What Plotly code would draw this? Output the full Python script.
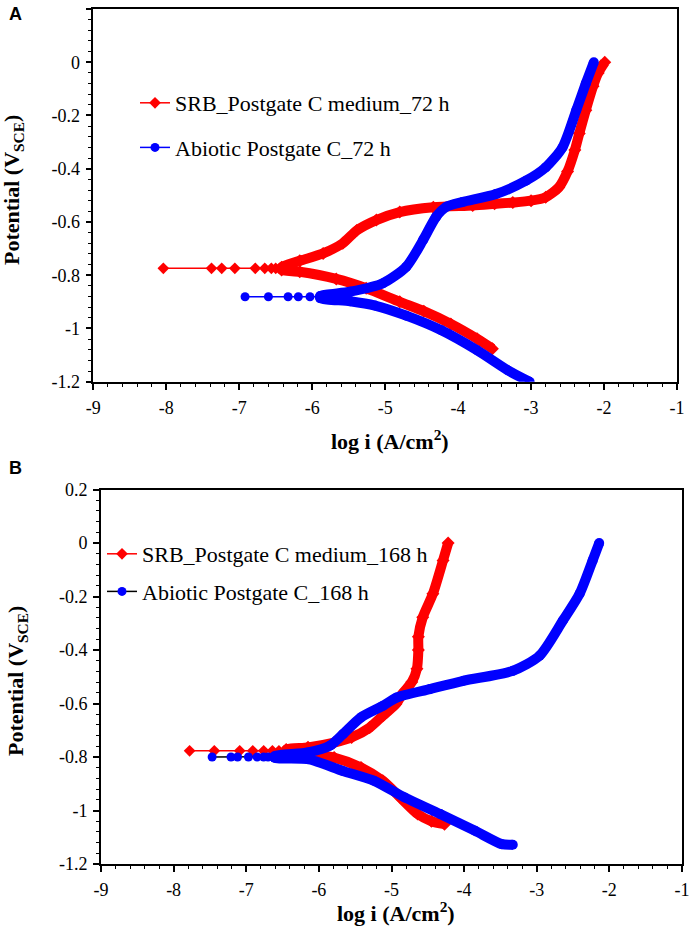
import plotly.graph_objects as go

# ---------------- data ----------------
x_tick_vals = [-9, -8, -7, -6, -5, -4, -3, -2, -1]
x_tick_text = ["-9", "-8", "-7", "-6", "-5", "-4", "-3", "-2", "-1"]
y_tick_vals = [0.2, 0, -0.2, -0.4, -0.6, -0.8, -1.0, -1.2]
y_tick_text = ["0.2", "0", "-0.2", "-0.4", "-0.6", "-0.8", "-1", "-1.2"]

series_names_a = ["SRB_Postgate C medium_72 h", "Abiotic Postgate C_72 h"]
series_names_b = ["SRB_Postgate C medium_168 h", "Abiotic Postgate C_168 h"]

# Panel A, SRB 72 h
a_srb_ecorr_x = [-8.04, -7.38, -7.24, -7.06, -6.78, -6.65, -6.56, -6.50, -6.42]
a_srb_ecorr_E = [-0.774, -0.774, -0.774, -0.774, -0.774, -0.774, -0.774, -0.774, -0.774]
a_srb_anod_x = [-6.42, -6.17, -5.85, -5.58, -5.39, -5.12, -4.80, -4.34, -3.80, -3.50, -3.25, -3.00,
                -2.80, -2.62, -2.50, -2.40, -2.34, -2.25, -2.15, -2.08, -1.99]
a_srb_anod_E = [-0.770, -0.746, -0.718, -0.680, -0.632, -0.593, -0.563, -0.545, -0.538, -0.532, -0.527, -0.520,
                -0.507, -0.470, -0.410, -0.330, -0.268, -0.180, -0.090, -0.040, 0.000]
a_srb_cath_x = [-6.42, -6.17, -5.67, -5.26, -4.80, -4.47, -4.10, -3.74, -3.53]
a_srb_cath_E = [-0.780, -0.787, -0.814, -0.849, -0.900, -0.935, -0.983, -1.039, -1.076]

# Panel A, Abiotic 72 h
a_abi_ecorr_x = [-6.92, -6.60, -6.33, -6.19, -6.03, -5.89]
a_abi_ecorr_E = [-0.881, -0.881, -0.881, -0.881, -0.881, -0.881]
a_abi_anod_x = [-5.89, -5.48, -5.03, -4.71, -4.48, -4.30, -4.16, -3.94, -3.48, -3.07, -2.80, -2.57,
                -2.38, -2.25, -2.14]
a_abi_anod_E = [-0.878, -0.862, -0.830, -0.768, -0.668, -0.580, -0.543, -0.525, -0.495, -0.445, -0.395, -0.320,
                -0.180, -0.080, 0.000]
a_abi_cath_x = [-5.89, -5.48, -5.14, -4.71, -4.23, -3.74, -3.32, -3.02]
a_abi_cath_E = [-0.886, -0.898, -0.914, -0.952, -1.007, -1.082, -1.157, -1.200]

# Panel B, SRB 168 h
b_srb_ecorr_x = [-7.78, -7.44, -7.09, -6.91, -6.76, -6.64, -6.55, -6.45]
b_srb_ecorr_E = [-0.777, -0.777, -0.777, -0.777, -0.777, -0.777, -0.777, -0.776]
b_srb_anod_x = [-6.45, -6.15, -5.79, -5.55, -5.30, -5.12, -4.94, -4.84, -4.72, -4.65, -4.63, -4.63,
                -4.57, -4.43, -4.29, -4.22]
b_srb_anod_E = [-0.772, -0.764, -0.746, -0.727, -0.690, -0.646, -0.602, -0.560, -0.520, -0.470, -0.400, -0.350,
                -0.278, -0.190, -0.065, 0.000]
b_srb_cath_x = [-6.45, -6.15, -5.79, -5.42, -5.12, -4.88, -4.64, -4.45, -4.27]
b_srb_cath_E = [-0.785, -0.789, -0.802, -0.839, -0.889, -0.951, -1.013, -1.040, -1.051]

# Panel B, Abiotic 168 h
b_abi_ecorr_x = [-7.47, -7.21, -7.12, -6.97, -6.85, -6.76, -6.70, -6.61]
b_abi_ecorr_E = [-0.800, -0.800, -0.800, -0.800, -0.800, -0.800, -0.800, -0.799]
b_abi_anod_x = [-6.61, -6.15, -5.85, -5.67, -5.42, -5.12, -4.93, -4.47, -4.01, -3.33, -2.96, -2.64,
                -2.41, -2.23, -2.14]
b_abi_anod_E = [-0.797, -0.783, -0.758, -0.715, -0.652, -0.609, -0.578, -0.546, -0.515, -0.478, -0.421, -0.290,
                -0.190, -0.065, 0.000]
b_abi_cath_x = [-6.61, -6.15, -5.67, -5.24, -4.82, -4.33, -3.85, -3.48, -3.33]
b_abi_cath_E = [-0.803, -0.808, -0.852, -0.889, -0.951, -1.013, -1.076, -1.126, -1.128]

RED = "#ff0000"
BLUE = "#0000ff"
BLACK = "#000000"
SERIF = "Liberation Serif"

fig = go.Figure()


def add_series(name, ex, eE, ax, aE, cx, cE, color, thin_color, symbol, xa, ya, legend, group):
    # thick dense band: cathodic branch (reversed) joined to anodic branch
    bx = list(reversed(cx)) + ax
    bE = list(reversed(cE)) + aE
    fig.add_trace(go.Scatter(
        x=bx, y=bE, mode="lines+markers", xaxis=xa, yaxis=ya,
        line=dict(color=color, width=10, shape="spline", smoothing=0.7),
        marker=dict(color=color, size=10, symbol=symbol),
        showlegend=False, hoverinfo="skip"))
    # sparse points near corrosion potential (legend trace)
    fig.add_trace(go.Scatter(
        x=ex, y=eE, mode="lines+markers", name=name, xaxis=xa, yaxis=ya,
        line=dict(color=thin_color, width=1.5),
        marker=dict(color=color, size=9, symbol=symbol),
        legend=legend, legendgroup=group))


add_series(series_names_a[0], a_srb_ecorr_x, a_srb_ecorr_E, a_srb_anod_x, a_srb_anod_E,
           a_srb_cath_x, a_srb_cath_E, RED, RED, "diamond", "x", "y", "legend", "a1")
add_series(series_names_a[1], a_abi_ecorr_x, a_abi_ecorr_E, a_abi_anod_x, a_abi_anod_E,
           a_abi_cath_x, a_abi_cath_E, BLUE, BLUE, "circle", "x", "y", "legend", "a2")
add_series(series_names_b[0], b_srb_ecorr_x, b_srb_ecorr_E, b_srb_anod_x, b_srb_anod_E,
           b_srb_cath_x, b_srb_cath_E, RED, RED, "diamond", "x2", "y2", "legend2", "b1")
add_series(series_names_b[1], b_abi_ecorr_x, b_abi_ecorr_E, b_abi_anod_x, b_abi_anod_E,
           b_abi_cath_x, b_abi_cath_E, BLUE, BLACK, "circle", "x2", "y2", "legend2", "b2")

W, H = 692, 930


def xaxis_cfg(domain, anchor):
    return dict(
        domain=domain, anchor=anchor, range=[-9.0000001, -0.9999999], tickmode="array",
        tickvals=x_tick_vals, ticktext=x_tick_text, showgrid=False, zeroline=False,
        showline=True, linecolor="black", linewidth=1.6, mirror=True,
        ticks="outside", ticklen=6, tickwidth=1.6, tickcolor="black",
        minor=dict(tickmode="linear", tick0=-9, dtick=0.2, ticks="outside",
                   ticklen=3.5, tickwidth=1.3, tickcolor="black", showgrid=False),
        tickfont=dict(family=SERIF, size=18, color="black"),
        ticklabelstandoff=3, automargin=False)


def yaxis_cfg(domain, anchor):
    return dict(
        domain=domain, anchor=anchor, range=[-1.2000001, 0.2000001], tickmode="array",
        tickvals=y_tick_vals, ticktext=y_tick_text, showgrid=False, zeroline=False,
        showline=True, linecolor="black", linewidth=1.6, mirror=True,
        ticks="outside", ticklen=6, tickwidth=1.6, tickcolor="black",
        minor=dict(tickmode="linear", tick0=-1.2, dtick=0.04, ticks="outside",
                   ticklen=3.5, tickwidth=1.3, tickcolor="black", showgrid=False),
        tickfont=dict(family=SERIF, size=18, color="black"),
        ticklabelstandoff=2, automargin=False)


ax_dom = [93.3 / W, 677 / W]
ay_dom = [1 - 381.7 / H, 1 - 9 / H]
bx_dom = [101 / W, 682 / W]
by_dom = [1 - 864 / H, 1 - 489.5 / H]

legend_font = dict(family=SERIF, size=22, color="black")

fig.update_layout(
    width=W, height=H, margin=dict(l=0, r=0, t=0, b=0),
    font=dict(family=SERIF, size=18, color="black"),
    paper_bgcolor="white", plot_bgcolor="white",
    xaxis=xaxis_cfg(ax_dom, "y"), yaxis=yaxis_cfg(ay_dom, "x"),
    xaxis2=xaxis_cfg(bx_dom, "y2"), yaxis2=yaxis_cfg(by_dom, "x2"),
    legend=dict(x=135 / W, y=1 - 82 / H, xanchor="left", yanchor="top",
                bgcolor="rgba(0,0,0,0)", font=legend_font, itemwidth=30,
                traceorder="grouped", tracegroupgap=13),
    legend2=dict(x=102 / W, y=1 - 533 / H, xanchor="left", yanchor="top",
                 bgcolor="rgba(0,0,0,0)", font=legend_font, itemwidth=30,
                 traceorder="grouped", tracegroupgap=6),
    showlegend=True,
)

title_font = dict(family=SERIF, size=22, color="black")
panel_font = dict(family="Liberation Sans", size=18, color="black")

annotations = [
    dict(text="<b>A</b>", x=15 / W, y=1 - 14 / H, font=panel_font),
    dict(text="<b>B</b>", x=15 / W, y=1 - 468 / H, font=panel_font),
    dict(text="<b>log i (A/cm<sup>2</sup>)</b>", x=390 / W, y=1 - 440 / H, font=title_font),
    dict(text="<b>log i (A/cm<sup>2</sup>)</b>", x=396 / W, y=1 - 912 / H, font=title_font),
    dict(text="<b>Potential (V<sub>SCE</sub>)</b>", x=13 / W, y=1 - 190 / H, font=title_font, textangle=-90),
    dict(text="<b>Potential (V<sub>SCE</sub>)</b>", x=17 / W, y=1 - 681 / H, font=title_font, textangle=-90),
]
for a in annotations:
    a.update(xref="paper", yref="paper", showarrow=False, xanchor="center", yanchor="middle")
fig.update_layout(annotations=annotations)

fig.write_html("out.html", config={"displayModeBar": False},
               post_script="document.body.style.margin='0';document.body.style.padding='0';")
